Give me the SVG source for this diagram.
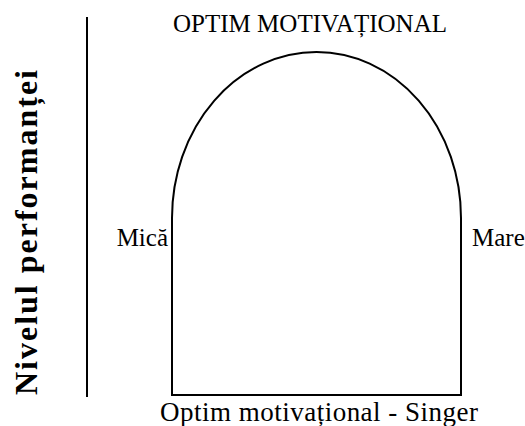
<svg xmlns="http://www.w3.org/2000/svg" width="525" height="426" viewBox="0 0 525 426">
<style>
.t{font-family:'Liberation Serif','Times New Roman',Tinos,'DejaVu Serif',serif;fill:#000}
.ln{fill:none;stroke:#000;stroke-width:2}
</style>
<rect width="525" height="426" fill="#fff"/>
<g id="axis">
<line class="ln" x1="87" y1="17" x2="87" y2="397"/>
<text class="t" font-family="Liberation Serif, DejaVu Serif, serif" transform="translate(37,395) rotate(-90)" font-size="32" font-weight="bold" textLength="325">Nivelul performanței</text>
</g>
<g id="title">
<text class="t" font-family="Liberation Serif, DejaVu Serif, serif" x="173" y="32" font-size="25" textLength="274">OPTIM MOTIVAȚIONAL</text>
</g>
<g id="arch">
<path class="ln" d="M172,395 L172,218 A144.5,166 0 0 1 461,218 L461,395 Z"/>
</g>
<g id="labels">
<text class="t" font-family="Liberation Serif, DejaVu Serif, serif" x="168" y="246" font-size="25" text-anchor="end">Mică</text>
<text class="t" font-family="Liberation Serif, DejaVu Serif, serif" x="472" y="246" font-size="25">Mare</text>
<text class="t" font-family="Liberation Serif, DejaVu Serif, serif" x="160" y="421" font-size="27" textLength="318">Optim motivațional - Singer</text>
</g>
</svg>
